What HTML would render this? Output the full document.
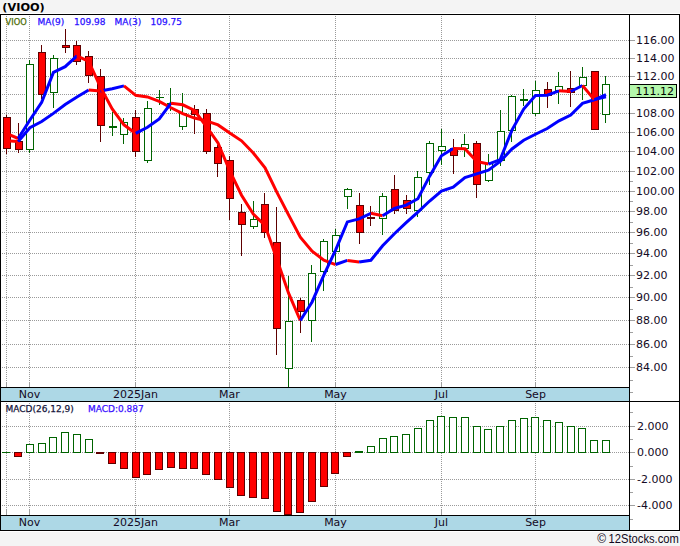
<!DOCTYPE html>
<html><head><meta charset="utf-8"><title>VIOO</title>
<style>html,body{margin:0;padding:0;background:#f4f4f4;width:680px;height:546px;overflow:hidden}svg{display:block}</style>
</head><body><svg width="680" height="546" viewBox="0 0 680 546"><rect x="0" y="13" width="680" height="519" fill="#ffffff"/><rect x="1" y="388" width="628" height="13" fill="#add8e6"/><rect x="1" y="516" width="628" height="14" fill="#add8e6"/><g stroke="#9a9a9a" stroke-width="1" stroke-dasharray="1,1" shape-rendering="crispEdges"><line x1="0" y1="367.5" x2="629" y2="367.5"/><line x1="0" y1="344.5" x2="629" y2="344.5"/><line x1="0" y1="320.5" x2="629" y2="320.5"/><line x1="0" y1="297.5" x2="629" y2="297.5"/><line x1="0" y1="275.5" x2="629" y2="275.5"/><line x1="0" y1="253.5" x2="629" y2="253.5"/><line x1="0" y1="232.5" x2="629" y2="232.5"/><line x1="0" y1="211.5" x2="629" y2="211.5"/><line x1="0" y1="191.5" x2="629" y2="191.5"/><line x1="0" y1="171.5" x2="629" y2="171.5"/><line x1="0" y1="151.5" x2="629" y2="151.5"/><line x1="0" y1="132.5" x2="629" y2="132.5"/><line x1="0" y1="113.5" x2="629" y2="113.5"/><line x1="0" y1="94.5" x2="629" y2="94.5"/><line x1="0" y1="76.5" x2="629" y2="76.5"/><line x1="0" y1="58.5" x2="629" y2="58.5"/><line x1="0" y1="40.5" x2="629" y2="40.5"/><line x1="6.5" y1="16" x2="6.5" y2="382"/><line x1="6.5" y1="403" x2="6.5" y2="510"/><line x1="29.5" y1="16" x2="29.5" y2="382"/><line x1="29.5" y1="403" x2="29.5" y2="510"/><line x1="135.5" y1="16" x2="135.5" y2="382"/><line x1="135.5" y1="403" x2="135.5" y2="510"/><line x1="229.5" y1="16" x2="229.5" y2="382"/><line x1="229.5" y1="403" x2="229.5" y2="510"/><line x1="335.5" y1="16" x2="335.5" y2="382"/><line x1="335.5" y1="403" x2="335.5" y2="510"/><line x1="441.5" y1="16" x2="441.5" y2="382"/><line x1="441.5" y1="403" x2="441.5" y2="510"/><line x1="535.5" y1="16" x2="535.5" y2="382"/><line x1="535.5" y1="403" x2="535.5" y2="510"/><line x1="0" y1="426.5" x2="629" y2="426.5"/><line x1="0" y1="452.5" x2="629" y2="452.5"/><line x1="0" y1="479.5" x2="629" y2="479.5"/><line x1="0" y1="505.5" x2="629" y2="505.5"/></g><rect x="6" y="382" width="1" height="5" fill="#a0a0a0"/><rect x="6" y="510" width="1" height="5" fill="#a0a0a0"/><rect x="29" y="382" width="1" height="5" fill="#a0a0a0"/><rect x="29" y="510" width="1" height="5" fill="#a0a0a0"/><rect x="135" y="382" width="1" height="5" fill="#a0a0a0"/><rect x="135" y="510" width="1" height="5" fill="#a0a0a0"/><rect x="229" y="382" width="1" height="5" fill="#a0a0a0"/><rect x="229" y="510" width="1" height="5" fill="#a0a0a0"/><rect x="335" y="382" width="1" height="5" fill="#a0a0a0"/><rect x="335" y="510" width="1" height="5" fill="#a0a0a0"/><rect x="441" y="382" width="1" height="5" fill="#a0a0a0"/><rect x="441" y="510" width="1" height="5" fill="#a0a0a0"/><rect x="535" y="382" width="1" height="5" fill="#a0a0a0"/><rect x="535" y="510" width="1" height="5" fill="#a0a0a0"/><rect x="630" y="367" width="5" height="1" fill="#a0a0a0"/><rect x="630" y="344" width="5" height="1" fill="#a0a0a0"/><rect x="630" y="320" width="5" height="1" fill="#a0a0a0"/><rect x="630" y="297" width="5" height="1" fill="#a0a0a0"/><rect x="630" y="275" width="5" height="1" fill="#a0a0a0"/><rect x="630" y="253" width="5" height="1" fill="#a0a0a0"/><rect x="630" y="232" width="5" height="1" fill="#a0a0a0"/><rect x="630" y="211" width="5" height="1" fill="#a0a0a0"/><rect x="630" y="191" width="5" height="1" fill="#a0a0a0"/><rect x="630" y="171" width="5" height="1" fill="#a0a0a0"/><rect x="630" y="151" width="5" height="1" fill="#a0a0a0"/><rect x="630" y="132" width="5" height="1" fill="#a0a0a0"/><rect x="630" y="113" width="5" height="1" fill="#a0a0a0"/><rect x="630" y="94" width="5" height="1" fill="#a0a0a0"/><rect x="630" y="76" width="5" height="1" fill="#a0a0a0"/><rect x="630" y="58" width="5" height="1" fill="#a0a0a0"/><rect x="630" y="40" width="5" height="1" fill="#a0a0a0"/><rect x="630" y="380" width="3" height="1" fill="#a0a0a0"/><rect x="630" y="356" width="3" height="1" fill="#a0a0a0"/><rect x="630" y="332" width="3" height="1" fill="#a0a0a0"/><rect x="630" y="309" width="3" height="1" fill="#a0a0a0"/><rect x="630" y="287" width="3" height="1" fill="#a0a0a0"/><rect x="630" y="265" width="3" height="1" fill="#a0a0a0"/><rect x="630" y="243" width="3" height="1" fill="#a0a0a0"/><rect x="630" y="222" width="3" height="1" fill="#a0a0a0"/><rect x="630" y="201" width="3" height="1" fill="#a0a0a0"/><rect x="630" y="181" width="3" height="1" fill="#a0a0a0"/><rect x="630" y="392" width="3" height="1" fill="#a0a0a0"/><rect x="630" y="412" width="3" height="1" fill="#a0a0a0"/><rect x="630" y="426" width="5" height="1" fill="#a0a0a0"/><rect x="630" y="439" width="3" height="1" fill="#a0a0a0"/><rect x="630" y="452" width="5" height="1" fill="#a0a0a0"/><rect x="630" y="466" width="3" height="1" fill="#a0a0a0"/><rect x="630" y="479" width="5" height="1" fill="#a0a0a0"/><rect x="630" y="492" width="3" height="1" fill="#a0a0a0"/><rect x="630" y="505" width="5" height="1" fill="#a0a0a0"/><rect x="630" y="519" width="3" height="1" fill="#a0a0a0"/><rect x="6" y="115" width="1" height="39" fill="#5e0000"/><rect x="3" y="117" width="8" height="32" fill="#5e0000"/><rect x="4" y="118" width="6" height="30" fill="#ff0000"/><rect x="18" y="123" width="1" height="30" fill="#5e0000"/><rect x="15" y="141" width="8" height="9" fill="#5e0000"/><rect x="16" y="142" width="6" height="7" fill="#ff0000"/><rect x="29" y="60" width="1" height="93" fill="#006400"/><rect x="26" y="64" width="8" height="86" fill="#006400"/><rect x="27" y="65" width="6" height="84" fill="#ffffff"/><rect x="41" y="45" width="1" height="54" fill="#5e0000"/><rect x="38" y="52" width="8" height="43" fill="#5e0000"/><rect x="39" y="53" width="6" height="41" fill="#ff0000"/><rect x="53" y="55" width="1" height="53" fill="#006400"/><rect x="50" y="58" width="8" height="35" fill="#006400"/><rect x="51" y="59" width="6" height="33" fill="#ffffff"/><rect x="65" y="29" width="1" height="24" fill="#5e0000"/><rect x="62" y="45" width="8" height="3" fill="#5e0000"/><rect x="63" y="46" width="6" height="1" fill="#ff0000"/><rect x="76" y="41" width="1" height="24" fill="#5e0000"/><rect x="73" y="45" width="8" height="17" fill="#5e0000"/><rect x="74" y="46" width="6" height="15" fill="#ff0000"/><rect x="88" y="51" width="1" height="32" fill="#5e0000"/><rect x="85" y="56" width="8" height="20" fill="#5e0000"/><rect x="86" y="57" width="6" height="18" fill="#ff0000"/><rect x="100" y="69" width="1" height="73" fill="#5e0000"/><rect x="97" y="76" width="8" height="50" fill="#5e0000"/><rect x="98" y="77" width="6" height="48" fill="#ff0000"/><rect x="112" y="112" width="1" height="24" fill="#006400"/><rect x="109" y="126" width="8" height="2" fill="#006400"/><rect x="123" y="118" width="1" height="26" fill="#006400"/><rect x="120" y="122" width="8" height="13" fill="#006400"/><rect x="121" y="123" width="6" height="11" fill="#ffffff"/><rect x="135" y="110" width="1" height="47" fill="#5e0000"/><rect x="132" y="117" width="8" height="35" fill="#5e0000"/><rect x="133" y="118" width="6" height="33" fill="#ff0000"/><rect x="147" y="101" width="1" height="62" fill="#006400"/><rect x="144" y="108" width="8" height="53" fill="#006400"/><rect x="145" y="109" width="6" height="51" fill="#ffffff"/><rect x="159" y="90" width="1" height="15" fill="#006400"/><rect x="156" y="97" width="8" height="1" fill="#006400"/><rect x="170" y="88" width="1" height="23" fill="#006400"/><rect x="167" y="103" width="8" height="2" fill="#006400"/><rect x="182" y="93" width="1" height="37" fill="#006400"/><rect x="179" y="113" width="8" height="14" fill="#006400"/><rect x="180" y="114" width="6" height="12" fill="#ffffff"/><rect x="194" y="105" width="1" height="29" fill="#5e0000"/><rect x="191" y="109" width="8" height="6" fill="#5e0000"/><rect x="192" y="110" width="6" height="4" fill="#ff0000"/><rect x="206" y="109" width="1" height="45" fill="#5e0000"/><rect x="203" y="113" width="8" height="39" fill="#5e0000"/><rect x="204" y="114" width="6" height="37" fill="#ff0000"/><rect x="217" y="145" width="1" height="32" fill="#5e0000"/><rect x="214" y="147" width="8" height="17" fill="#5e0000"/><rect x="215" y="148" width="6" height="15" fill="#ff0000"/><rect x="229" y="156" width="1" height="64" fill="#5e0000"/><rect x="226" y="160" width="8" height="39" fill="#5e0000"/><rect x="227" y="161" width="6" height="37" fill="#ff0000"/><rect x="241" y="204" width="1" height="52" fill="#5e0000"/><rect x="238" y="212" width="8" height="13" fill="#5e0000"/><rect x="239" y="213" width="6" height="11" fill="#ff0000"/><rect x="253" y="201" width="1" height="28" fill="#006400"/><rect x="250" y="219" width="8" height="8" fill="#006400"/><rect x="251" y="220" width="6" height="6" fill="#ffffff"/><rect x="264" y="193" width="1" height="45" fill="#5e0000"/><rect x="261" y="204" width="8" height="29" fill="#5e0000"/><rect x="262" y="205" width="6" height="27" fill="#ff0000"/><rect x="276" y="207" width="1" height="148" fill="#5e0000"/><rect x="273" y="242" width="8" height="87" fill="#5e0000"/><rect x="274" y="243" width="6" height="85" fill="#ff0000"/><rect x="288" y="276" width="1" height="111" fill="#006400"/><rect x="285" y="321" width="8" height="48" fill="#006400"/><rect x="286" y="322" width="6" height="46" fill="#ffffff"/><rect x="300" y="298" width="1" height="35" fill="#5e0000"/><rect x="297" y="300" width="8" height="12" fill="#5e0000"/><rect x="298" y="301" width="6" height="10" fill="#ff0000"/><rect x="311" y="265" width="1" height="77" fill="#006400"/><rect x="308" y="273" width="8" height="48" fill="#006400"/><rect x="309" y="274" width="6" height="46" fill="#ffffff"/><rect x="323" y="239" width="1" height="52" fill="#006400"/><rect x="320" y="241" width="8" height="31" fill="#006400"/><rect x="321" y="242" width="6" height="29" fill="#ffffff"/><rect x="335" y="229" width="1" height="36" fill="#006400"/><rect x="332" y="235" width="8" height="17" fill="#006400"/><rect x="333" y="236" width="6" height="15" fill="#ffffff"/><rect x="347" y="188" width="1" height="21" fill="#006400"/><rect x="344" y="189" width="8" height="8" fill="#006400"/><rect x="345" y="190" width="6" height="6" fill="#ffffff"/><rect x="359" y="193" width="1" height="51" fill="#5e0000"/><rect x="356" y="205" width="8" height="28" fill="#5e0000"/><rect x="357" y="206" width="6" height="26" fill="#ff0000"/><rect x="370" y="206" width="1" height="20" fill="#5e0000"/><rect x="367" y="217" width="8" height="2" fill="#5e0000"/><rect x="382" y="193" width="1" height="42" fill="#006400"/><rect x="379" y="196" width="8" height="23" fill="#006400"/><rect x="380" y="197" width="6" height="21" fill="#ffffff"/><rect x="394" y="175" width="1" height="39" fill="#5e0000"/><rect x="391" y="189" width="8" height="22" fill="#5e0000"/><rect x="392" y="190" width="6" height="20" fill="#ff0000"/><rect x="406" y="195" width="1" height="19" fill="#5e0000"/><rect x="403" y="200" width="8" height="9" fill="#5e0000"/><rect x="404" y="201" width="6" height="7" fill="#ff0000"/><rect x="417" y="171" width="1" height="46" fill="#006400"/><rect x="414" y="177" width="8" height="34" fill="#006400"/><rect x="415" y="178" width="6" height="32" fill="#ffffff"/><rect x="429" y="141" width="1" height="44" fill="#006400"/><rect x="426" y="143" width="8" height="30" fill="#006400"/><rect x="427" y="144" width="6" height="28" fill="#ffffff"/><rect x="441" y="129" width="1" height="36" fill="#006400"/><rect x="438" y="146" width="8" height="5" fill="#006400"/><rect x="439" y="147" width="6" height="3" fill="#ffffff"/><rect x="453" y="139" width="1" height="35" fill="#5e0000"/><rect x="450" y="148" width="8" height="8" fill="#5e0000"/><rect x="451" y="149" width="6" height="6" fill="#ff0000"/><rect x="464" y="134" width="1" height="23" fill="#006400"/><rect x="461" y="144" width="8" height="5" fill="#006400"/><rect x="462" y="145" width="6" height="3" fill="#ffffff"/><rect x="476" y="141" width="1" height="57" fill="#5e0000"/><rect x="473" y="143" width="8" height="42" fill="#5e0000"/><rect x="474" y="144" width="6" height="40" fill="#ff0000"/><rect x="488" y="154" width="1" height="28" fill="#006400"/><rect x="485" y="163" width="8" height="18" fill="#006400"/><rect x="486" y="164" width="6" height="16" fill="#ffffff"/><rect x="500" y="110" width="1" height="56" fill="#006400"/><rect x="497" y="131" width="8" height="30" fill="#006400"/><rect x="498" y="132" width="6" height="28" fill="#ffffff"/><rect x="511" y="95" width="1" height="47" fill="#006400"/><rect x="508" y="96" width="8" height="35" fill="#006400"/><rect x="509" y="97" width="6" height="33" fill="#ffffff"/><rect x="523" y="89" width="1" height="17" fill="#006400"/><rect x="520" y="99" width="8" height="2" fill="#006400"/><rect x="535" y="81" width="1" height="35" fill="#006400"/><rect x="532" y="90" width="8" height="24" fill="#006400"/><rect x="533" y="91" width="6" height="22" fill="#ffffff"/><rect x="547" y="82" width="1" height="26" fill="#5e0000"/><rect x="544" y="89" width="8" height="7" fill="#5e0000"/><rect x="545" y="90" width="6" height="5" fill="#ff0000"/><rect x="558" y="72" width="1" height="32" fill="#006400"/><rect x="555" y="86" width="8" height="5" fill="#006400"/><rect x="556" y="87" width="6" height="3" fill="#ffffff"/><rect x="570" y="71" width="1" height="36" fill="#5e0000"/><rect x="567" y="88" width="8" height="5" fill="#5e0000"/><rect x="568" y="89" width="6" height="3" fill="#ff0000"/><rect x="582" y="67" width="1" height="33" fill="#006400"/><rect x="579" y="77" width="8" height="9" fill="#006400"/><rect x="580" y="78" width="6" height="7" fill="#ffffff"/><rect x="594" y="71" width="1" height="59" fill="#5e0000"/><rect x="591" y="71" width="8" height="59" fill="#5e0000"/><rect x="592" y="72" width="6" height="57" fill="#ff0000"/><rect x="605" y="76" width="1" height="47" fill="#006400"/><rect x="602" y="84" width="8" height="31" fill="#006400"/><rect x="603" y="85" width="6" height="29" fill="#ffffff"/><rect x="2" y="452" width="8" height="1" fill="#006400"/><rect x="14" y="452" width="8" height="5" fill="#5e0000"/><rect x="15" y="453" width="6" height="3" fill="#ff0000"/><rect x="26" y="444" width="8" height="9" fill="#006400"/><rect x="27" y="445" width="6" height="7" fill="#ffffff"/><rect x="38" y="443" width="8" height="10" fill="#006400"/><rect x="39" y="444" width="6" height="8" fill="#ffffff"/><rect x="49" y="437" width="8" height="16" fill="#006400"/><rect x="50" y="438" width="6" height="14" fill="#ffffff"/><rect x="61" y="432" width="8" height="21" fill="#006400"/><rect x="62" y="433" width="6" height="19" fill="#ffffff"/><rect x="73" y="434" width="8" height="19" fill="#006400"/><rect x="74" y="435" width="6" height="17" fill="#ffffff"/><rect x="85" y="439" width="8" height="14" fill="#006400"/><rect x="86" y="440" width="6" height="12" fill="#ffffff"/><rect x="96" y="452" width="8" height="2" fill="#5e0000"/><rect x="108" y="452" width="8" height="12" fill="#5e0000"/><rect x="109" y="453" width="6" height="10" fill="#ff0000"/><rect x="120" y="452" width="8" height="17" fill="#5e0000"/><rect x="121" y="453" width="6" height="15" fill="#ff0000"/><rect x="132" y="452" width="8" height="26" fill="#5e0000"/><rect x="133" y="453" width="6" height="24" fill="#ff0000"/><rect x="143" y="452" width="8" height="23" fill="#5e0000"/><rect x="144" y="453" width="6" height="21" fill="#ff0000"/><rect x="155" y="452" width="8" height="18" fill="#5e0000"/><rect x="156" y="453" width="6" height="16" fill="#ff0000"/><rect x="167" y="452" width="8" height="16" fill="#5e0000"/><rect x="168" y="453" width="6" height="14" fill="#ff0000"/><rect x="179" y="452" width="8" height="17" fill="#5e0000"/><rect x="180" y="453" width="6" height="15" fill="#ff0000"/><rect x="190" y="452" width="8" height="17" fill="#5e0000"/><rect x="191" y="453" width="6" height="15" fill="#ff0000"/><rect x="202" y="452" width="8" height="23" fill="#5e0000"/><rect x="203" y="453" width="6" height="21" fill="#ff0000"/><rect x="214" y="452" width="8" height="28" fill="#5e0000"/><rect x="215" y="453" width="6" height="26" fill="#ff0000"/><rect x="226" y="452" width="8" height="36" fill="#5e0000"/><rect x="227" y="453" width="6" height="34" fill="#ff0000"/><rect x="237" y="452" width="8" height="44" fill="#5e0000"/><rect x="238" y="453" width="6" height="42" fill="#ff0000"/><rect x="249" y="452" width="8" height="46" fill="#5e0000"/><rect x="250" y="453" width="6" height="44" fill="#ff0000"/><rect x="261" y="452" width="8" height="47" fill="#5e0000"/><rect x="262" y="453" width="6" height="45" fill="#ff0000"/><rect x="273" y="452" width="8" height="60" fill="#5e0000"/><rect x="274" y="453" width="6" height="58" fill="#ff0000"/><rect x="284" y="452" width="8" height="63" fill="#5e0000"/><rect x="285" y="453" width="6" height="61" fill="#ff0000"/><rect x="296" y="452" width="8" height="61" fill="#5e0000"/><rect x="297" y="453" width="6" height="59" fill="#ff0000"/><rect x="308" y="452" width="8" height="50" fill="#5e0000"/><rect x="309" y="453" width="6" height="48" fill="#ff0000"/><rect x="320" y="452" width="8" height="35" fill="#5e0000"/><rect x="321" y="453" width="6" height="33" fill="#ff0000"/><rect x="331" y="452" width="8" height="22" fill="#5e0000"/><rect x="332" y="453" width="6" height="20" fill="#ff0000"/><rect x="343" y="452" width="8" height="5" fill="#5e0000"/><rect x="344" y="453" width="6" height="3" fill="#ff0000"/><rect x="355" y="451" width="8" height="2" fill="#006400"/><rect x="367" y="446" width="8" height="7" fill="#006400"/><rect x="368" y="447" width="6" height="5" fill="#ffffff"/><rect x="379" y="438" width="8" height="15" fill="#006400"/><rect x="380" y="439" width="6" height="13" fill="#ffffff"/><rect x="390" y="436" width="8" height="17" fill="#006400"/><rect x="391" y="437" width="6" height="15" fill="#ffffff"/><rect x="402" y="434" width="8" height="19" fill="#006400"/><rect x="403" y="435" width="6" height="17" fill="#ffffff"/><rect x="414" y="428" width="8" height="25" fill="#006400"/><rect x="415" y="429" width="6" height="23" fill="#ffffff"/><rect x="426" y="420" width="8" height="33" fill="#006400"/><rect x="427" y="421" width="6" height="31" fill="#ffffff"/><rect x="437" y="416" width="8" height="37" fill="#006400"/><rect x="438" y="417" width="6" height="35" fill="#ffffff"/><rect x="449" y="417" width="8" height="36" fill="#006400"/><rect x="450" y="418" width="6" height="34" fill="#ffffff"/><rect x="461" y="417" width="8" height="36" fill="#006400"/><rect x="462" y="418" width="6" height="34" fill="#ffffff"/><rect x="473" y="426" width="8" height="27" fill="#006400"/><rect x="474" y="427" width="6" height="25" fill="#ffffff"/><rect x="484" y="429" width="8" height="24" fill="#006400"/><rect x="485" y="430" width="6" height="22" fill="#ffffff"/><rect x="496" y="426" width="8" height="27" fill="#006400"/><rect x="497" y="427" width="6" height="25" fill="#ffffff"/><rect x="508" y="420" width="8" height="33" fill="#006400"/><rect x="509" y="421" width="6" height="31" fill="#ffffff"/><rect x="520" y="418" width="8" height="35" fill="#006400"/><rect x="521" y="419" width="6" height="33" fill="#ffffff"/><rect x="531" y="417" width="8" height="36" fill="#006400"/><rect x="532" y="418" width="6" height="34" fill="#ffffff"/><rect x="543" y="420" width="8" height="33" fill="#006400"/><rect x="544" y="421" width="6" height="31" fill="#ffffff"/><rect x="555" y="422" width="8" height="31" fill="#006400"/><rect x="556" y="423" width="6" height="29" fill="#ffffff"/><rect x="567" y="426" width="8" height="27" fill="#006400"/><rect x="568" y="427" width="6" height="25" fill="#ffffff"/><rect x="578" y="428" width="8" height="25" fill="#006400"/><rect x="579" y="429" width="6" height="23" fill="#ffffff"/><rect x="590" y="440" width="8" height="13" fill="#006400"/><rect x="591" y="441" width="6" height="11" fill="#ffffff"/><rect x="602" y="440" width="8" height="13" fill="#006400"/><rect x="603" y="441" width="6" height="11" fill="#ffffff"/><rect x="1" y="404" width="146" height="9" fill="#ffffff"/><g fill="none" stroke-width="3" stroke-linecap="butt" stroke-linejoin="miter"><polyline points="6.40,140.70 18.15,141.60" stroke="#ff0000"/><polyline points="18.15,141.60 29.91,127.70 41.67,121.50 53.42,113.40 65.18,104.50 76.94,97.00 88.70,90.00" stroke="#0000ff"/><polyline points="88.70,90.00 100.45,91.03" stroke="#ff0000"/><polyline points="100.45,91.03 112.21,88.70 123.97,85.84" stroke="#0000ff"/><polyline points="123.97,85.84 135.72,95.34 147.48,96.89 159.24,101.32 170.99,107.72 182.75,113.63 194.51,118.06 206.27,120.89 218.02,124.91 229.78,133.10 241.54,140.82 253.29,152.95 265.05,167.89 276.81,192.07 288.57,214.90 300.32,237.11 312.08,251.10 323.84,260.24 335.59,264.54" stroke="#ff0000"/><polyline points="335.59,264.54 347.35,260.43" stroke="#0000ff"/><polyline points="347.35,260.43 359.11,261.92" stroke="#ff0000"/><polyline points="359.11,261.92 370.86,260.31 382.62,245.77 394.38,233.75 406.14,222.65 417.89,212.07 429.65,201.02 441.41,191.08 453.16,187.24 464.92,177.52 476.68,173.84 488.43,170.20 500.19,161.46 511.95,148.98 523.71,140.26 535.46,134.25 547.22,128.52 558.98,120.83 570.73,115.05 582.49,103.41 594.25,99.80 606.00,94.63" stroke="#0000ff"/></g><g fill="none" stroke-width="3" stroke-linecap="butt" stroke-linejoin="miter"><polyline points="6.40,133.40 18.15,138.50" stroke="#ff0000"/><polyline points="18.15,138.50 29.91,120.04 41.67,102.22 53.42,72.38 65.18,66.64 76.94,55.82" stroke="#0000ff"/><polyline points="76.94,55.82 88.70,61.44 100.45,87.13 112.21,108.89 123.97,124.83 135.72,133.42" stroke="#ff0000"/><polyline points="135.72,133.42 147.48,127.34 159.24,118.90 170.99,103.16" stroke="#0000ff"/><polyline points="170.99,103.16 182.75,104.81 194.51,110.49 206.27,126.35 218.02,142.95 229.78,170.97 241.54,195.19 253.29,214.10 265.05,225.49 276.81,259.01 288.57,293.21 300.32,320.48" stroke="#ff0000"/><polyline points="300.32,320.48 312.08,301.95 323.84,275.10 335.59,250.03 347.35,221.90 359.11,218.95 370.86,213.34" stroke="#0000ff"/><polyline points="370.86,213.34 382.62,215.72" stroke="#ff0000"/><polyline points="382.62,215.72 394.38,208.46 406.14,205.15 417.89,198.72 429.65,176.15 441.41,155.72 453.16,148.49" stroke="#0000ff"/><polyline points="453.16,148.49 464.92,148.82 476.68,161.36 488.43,164.03" stroke="#ff0000"/><polyline points="488.43,164.03 500.19,159.60 511.95,130.13 523.71,109.04 535.46,95.49 547.22,95.16 558.98,90.83" stroke="#0000ff"/><polyline points="558.98,90.83 570.73,91.49" stroke="#ff0000"/><polyline points="570.73,91.49 582.49,85.48" stroke="#0000ff"/><polyline points="582.49,85.48 594.25,99.60" stroke="#ff0000"/><polyline points="594.25,99.60 606.00,96.91" stroke="#0000ff"/></g><rect x="0" y="14" width="680" height="1" fill="#000000"/><rect x="0" y="530" width="680" height="1" fill="#000000"/><rect x="0" y="14" width="1" height="517" fill="#000000"/><rect x="679" y="14" width="1" height="517" fill="#000000"/><rect x="629" y="14" width="1" height="517" fill="#000000"/><rect x="0" y="387" width="630" height="1" fill="#000000"/><rect x="0" y="401" width="680" height="1" fill="#000000"/><rect x="0" y="515" width="630" height="1" fill="#000000"/><rect x="629" y="84" width="48" height="14" fill="#000000"/><rect x="630" y="85" width="46" height="12" fill="#b4f8ac"/><g font-family="DejaVu Sans, Verdana, sans-serif"><text x="2.3" y="11" font-size="11" fill="#000" text-anchor="start" font-weight="bold" textLength="42.5" lengthAdjust="spacingAndGlyphs">(VIOO)</text><text x="5.5" y="24.5" font-size="9" fill="#4a6a00" text-anchor="start" font-weight="normal" stroke="#4a6a00" stroke-width="0.25" textLength="21.2" lengthAdjust="spacingAndGlyphs">VIOO</text><text x="37.5" y="24.5" font-size="9" fill="#2a10ff" text-anchor="start" font-weight="normal" stroke="#2a10ff" stroke-width="0.25">MA(9)</text><text x="74" y="24.5" font-size="9" fill="#2a10ff" text-anchor="start" font-weight="normal" stroke="#2a10ff" stroke-width="0.25">109.98</text><text x="114.5" y="24.5" font-size="9" fill="#2a10ff" text-anchor="start" font-weight="normal" stroke="#2a10ff" stroke-width="0.25">MA(3)</text><text x="150.5" y="24.5" font-size="9" fill="#2a10ff" text-anchor="start" font-weight="normal" stroke="#2a10ff" stroke-width="0.25">109.75</text><text x="5.5" y="411.5" font-size="9" fill="#14143a" text-anchor="start" font-weight="normal" stroke="#14143a" stroke-width="0.25">MACD(26,12,9)</text><text x="88" y="411.5" font-size="9" fill="#3a10ff" text-anchor="start" font-weight="normal" stroke="#3a10ff" stroke-width="0.25">MACD:0.887</text><text x="636" y="371" font-size="11" fill="#140a24" text-anchor="start" font-weight="normal">84.00</text><text x="636" y="348" font-size="11" fill="#140a24" text-anchor="start" font-weight="normal">86.00</text><text x="636" y="324" font-size="11" fill="#140a24" text-anchor="start" font-weight="normal">88.00</text><text x="636" y="301" font-size="11" fill="#140a24" text-anchor="start" font-weight="normal">90.00</text><text x="636" y="279" font-size="11" fill="#140a24" text-anchor="start" font-weight="normal">92.00</text><text x="636" y="257" font-size="11" fill="#140a24" text-anchor="start" font-weight="normal">94.00</text><text x="636" y="236" font-size="11" fill="#140a24" text-anchor="start" font-weight="normal">96.00</text><text x="636" y="215" font-size="11" fill="#140a24" text-anchor="start" font-weight="normal">98.00</text><text x="636" y="195" font-size="11" fill="#140a24" text-anchor="start" font-weight="normal">100.00</text><text x="636" y="175" font-size="11" fill="#140a24" text-anchor="start" font-weight="normal">102.00</text><text x="636" y="155" font-size="11" fill="#140a24" text-anchor="start" font-weight="normal">104.00</text><text x="636" y="136" font-size="11" fill="#140a24" text-anchor="start" font-weight="normal">106.00</text><text x="636" y="117" font-size="11" fill="#140a24" text-anchor="start" font-weight="normal">108.00</text><text x="636" y="80" font-size="11" fill="#140a24" text-anchor="start" font-weight="normal">112.00</text><text x="636" y="62" font-size="11" fill="#140a24" text-anchor="start" font-weight="normal">114.00</text><text x="636" y="44" font-size="11" fill="#140a24" text-anchor="start" font-weight="normal">116.00</text><text x="635.5" y="95" font-size="11" fill="#000" text-anchor="start" font-weight="normal">111.12</text><text x="637" y="430" font-size="11" fill="#140a24" text-anchor="start" font-weight="normal">2.000</text><text x="637" y="456" font-size="11" fill="#140a24" text-anchor="start" font-weight="normal">0.000</text><text x="637" y="483" font-size="11" fill="#140a24" text-anchor="start" font-weight="normal">-2.000</text><text x="637" y="509" font-size="11" fill="#140a24" text-anchor="start" font-weight="normal">-4.000</text><text x="29.5" y="398" font-size="11" fill="#140a24" text-anchor="middle" font-weight="normal">Nov</text><text x="29.5" y="526" font-size="11" fill="#140a24" text-anchor="middle" font-weight="normal">Nov</text><text x="135.5" y="398" font-size="11" fill="#140a24" text-anchor="middle" font-weight="normal">2025Jan</text><text x="135.5" y="526" font-size="11" fill="#140a24" text-anchor="middle" font-weight="normal">2025Jan</text><text x="229.5" y="398" font-size="11" fill="#140a24" text-anchor="middle" font-weight="normal">Mar</text><text x="229.5" y="526" font-size="11" fill="#140a24" text-anchor="middle" font-weight="normal">Mar</text><text x="335.5" y="398" font-size="11" fill="#140a24" text-anchor="middle" font-weight="normal">May</text><text x="335.5" y="526" font-size="11" fill="#140a24" text-anchor="middle" font-weight="normal">May</text><text x="441.5" y="398" font-size="11" fill="#140a24" text-anchor="middle" font-weight="normal">Jul</text><text x="441.5" y="526" font-size="11" fill="#140a24" text-anchor="middle" font-weight="normal">Jul</text><text x="535.5" y="398" font-size="11" fill="#140a24" text-anchor="middle" font-weight="normal">Sep</text><text x="535.5" y="526" font-size="11" fill="#140a24" text-anchor="middle" font-weight="normal">Sep</text><text x="597.3" y="542.5" font-size="12" fill="#100820" text-anchor="start" font-weight="normal" font-family="Liberation Sans, Arial, sans-serif" textLength="8.8" lengthAdjust="spacingAndGlyphs">&#169;</text><text x="608.6" y="542.5" font-size="12" fill="#100820" text-anchor="start" font-weight="normal" font-family="Liberation Sans, Arial, sans-serif" textLength="70.2" lengthAdjust="spacingAndGlyphs">12Stocks.com</text></g></svg></body></html>
